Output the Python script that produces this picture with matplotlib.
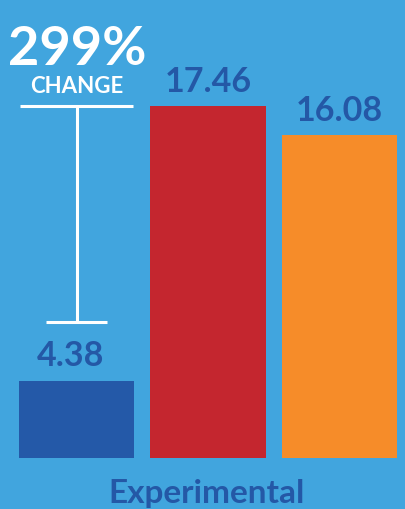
import matplotlib.pyplot as plt

# data
groups = ['Experimental']
bar_names = ['before', 'after_1', 'after_2']
values = [4.38, 17.46, 16.08]
value_labels = ['4.38', '17.46', '16.08']
change_label = '299%'
change_word = 'CHANGE'
bracket_low = 7.2
bracket_high = 17.46

bg = '#41a5de'
bar_colors = ['#2459a8', '#c4262f', '#f68c29']
navy = '#2458a6'
label_dx = [-4, 0, 0]  # points

fig = plt.figure(figsize=(4.05, 5.1), dpi=100, facecolor=bg)
# axes cover everything above the bar baseline; bars are cut at the axes bottom
ax = fig.add_axes([0, 51 / 510, 1, 459 / 510])
ax.set_facecolor(bg)

x = list(range(len(values)))
ax.bar(x, values, width=0.875, color=bar_colors, zorder=2)

for xi, v, lab, dx in zip(x, values, value_labels, label_dx):
    ax.annotate(lab, (xi, v), xytext=(dx, 11), textcoords='offset points',
                ha='center', va='baseline', color=navy,
                fontsize=24.5, fontweight='bold', family='Lato')

# change bracket over the first bar
ax.vlines(0, bracket_low, bracket_high, color='white', lw=2.2, zorder=3)
ax.hlines(bracket_high, -0.43, 0.43, color='white', lw=2.2, zorder=3)
ax.hlines(bracket_low, -0.232, 0.232, color='white', lw=2.2, zorder=3)

ax.set_xlim(-0.582, 2.498)
ax.set_ylim(0.7, 22.56)
ax.axis('off')

fig.text(77 / 405, 1 - 65 / 510, change_label, ha='center', va='baseline',
         color='white', fontsize=39, fontweight='bold', family='Lato')
fig.text(77 / 405, 1 - 93 / 510, change_word, ha='center', va='baseline',
         color='white', fontsize=16, fontweight='bold', family='Lato')
fig.text(207 / 405, 7 / 510, groups[0], ha='center', va='baseline',
         color=navy, fontsize=24, fontweight='bold', family='Lato')

fig.savefig('out.png', dpi=100, facecolor=bg)
